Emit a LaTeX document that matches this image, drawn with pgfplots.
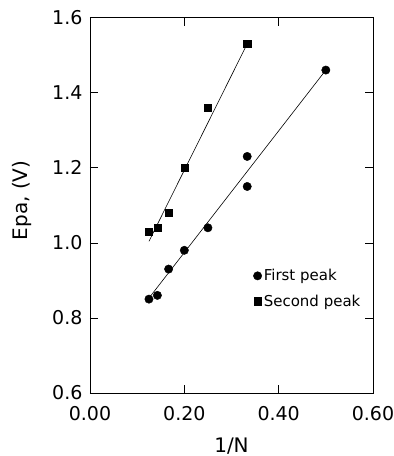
\documentclass[border=0pt]{standalone}
\usepackage{pgfplots}
\pgfplotsset{compat=1.18}
\usepackage{fontspec}
\setmainfont{DejaVu Sans}
\begin{document}
\begin{tikzpicture}[x=1pt,y=1pt]
\useasboundingbox (0,0) rectangle (394,456);
\begin{axis}[
  at={(90pt,63pt)}, anchor=south west,
  scale only axis, width=283pt, height=375.5pt,
  xmin=0, xmax=0.6, ymin=0.6, ymax=1.6,
  xtick={0,0.2,0.4,0.6}, ytick={0.6,0.8,1.0,1.2,1.4,1.6},
  xticklabel style={/pgf/number format/.cd,fixed,fixed zerofill,precision=2,assume math mode=true},
  yticklabel style={/pgf/number format/.cd,fixed,fixed zerofill,precision=1,assume math mode=true},
  tick label style={font=\fontsize{19}{21}\selectfont},
  tick align=inside, major tick length=8pt,
  tick style={black, line width=0.5pt},
  axis line style={line width=0.7pt},
  xticklabel shift=10pt, yticklabel shift=4pt,
  xlabel={1/N}, ylabel={Epa, (V)},
  label style={font=\fontsize{20}{22}\selectfont},
  xlabel style={at={(axis description cs:0.5,-0.141)}, anchor=center},
  ylabel style={at={(axis description cs:-0.240,0.513)}, anchor=center, rotate=0},
  legend style={draw=none, fill=none, at={(axis cs:0.346,0.935)}, anchor=north west,
    font=\fontsize{15}{17}\selectfont, row sep=8.5pt, inner sep=0pt,
    legend cell align=left},
  legend image code/.code={\draw[#1] plot coordinates {(0pt,0pt)};},
]
\addplot[only marks, mark=*, mark size=4.2pt, black] coordinates {
  (0.125,0.85) (0.1429,0.86) (0.1667,0.93) (0.2,0.98) (0.25,1.04)
  (0.3333,1.15) (0.3333,1.23) (0.5,1.46)
};
\addlegendentry{First peak}
\addplot[only marks, mark=square*, mark size=3.6pt, black] coordinates {
  (0.125,1.03) (0.1429,1.04) (0.1667,1.08) (0.2,1.20) (0.25,1.36) (0.3333,1.53)
};
\addlegendentry{Second peak}
\addplot[black, line width=0.6pt, forget plot] coordinates {(0.127,0.856) (0.5,1.46)};
\addplot[black, line width=0.6pt, forget plot] coordinates {(0.125,1.004) (0.3333,1.53)};
\end{axis}
\end{tikzpicture}
\end{document}
